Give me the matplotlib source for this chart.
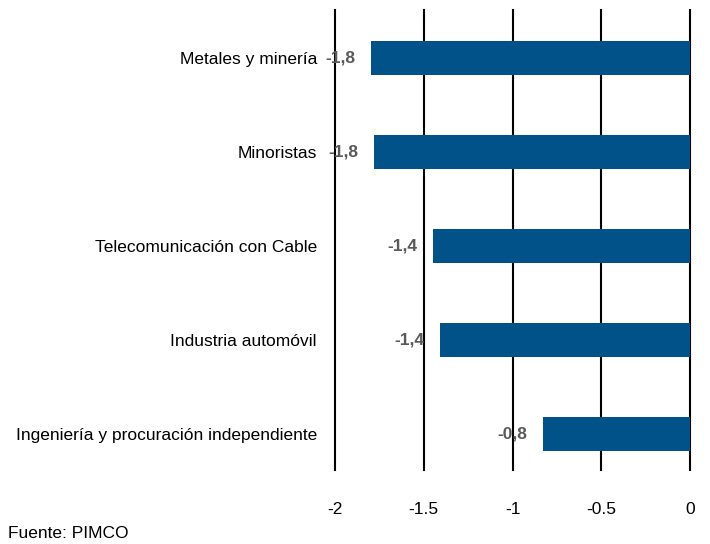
import matplotlib
matplotlib.use("Agg")
import matplotlib.pyplot as plt
from matplotlib import font_manager as fm

names = {f.name for f in fm.fontManager.ttflist}
fam = 'Liberation Sans Narrow' if 'Liberation Sans Narrow' in names else 'Liberation Sans'
plt.rcParams['font.family'] = [fam, 'DejaVu Sans']

categories = ["Metales y minería", "Minoristas", "Telecomunicación con Cable",
              "Industria automóvil", "Ingeniería y procuración independiente"]
values = [-1.80, -1.78, -1.45, -1.41, -0.83]
labels = ["-1,8", "-1,8", "-1,4", "-1,4", "-0,8"]
xticks = [-2, -1.5, -1, -0.5, 0]
xticklabels = ["-2", "-1.5", "-1", "-0.5", "0"]

fig = plt.figure(figsize=(7.1, 5.44), dpi=100)
ax = fig.add_axes([335/710, 1-470/544, 355/710, 460/544])
ypos = list(range(len(categories)))
ax.barh(ypos, values, height=0.36, color='#005288', zorder=3)
ax.set_xlim(-2, 0)
ax.set_ylim(4.38, -0.51)
ax.set_xticks(xticks)
ax.set_xticklabels(xticklabels, fontsize=12.5)
ax.set_yticks(ypos)
ax.set_yticklabels(categories, fontsize=12.5)
ax.tick_params(axis='both', length=0)
ax.tick_params(axis='y', pad=13)
ax.tick_params(axis='x', pad=23)
for s in ax.spines.values():
    s.set_visible(False)
ax.set_axisbelow(True)
for gx in xticks:
    ax.axvline(gx, color='black', linewidth=1.5, zorder=0, clip_on=False)
for y, v, l in zip(ypos, values, labels):
    ax.annotate(l, xy=(v, y), xytext=(-11, 0), textcoords='offset points',
                ha='right', va='center', fontsize=12.5, fontweight='bold',
                color='#595959', zorder=4, annotation_clip=False)
fig.text(8/710, 1-533/544, "Fuente: PIMCO", fontsize=12.5, ha='left', va='center')
fig.savefig("out.png", dpi=100)
